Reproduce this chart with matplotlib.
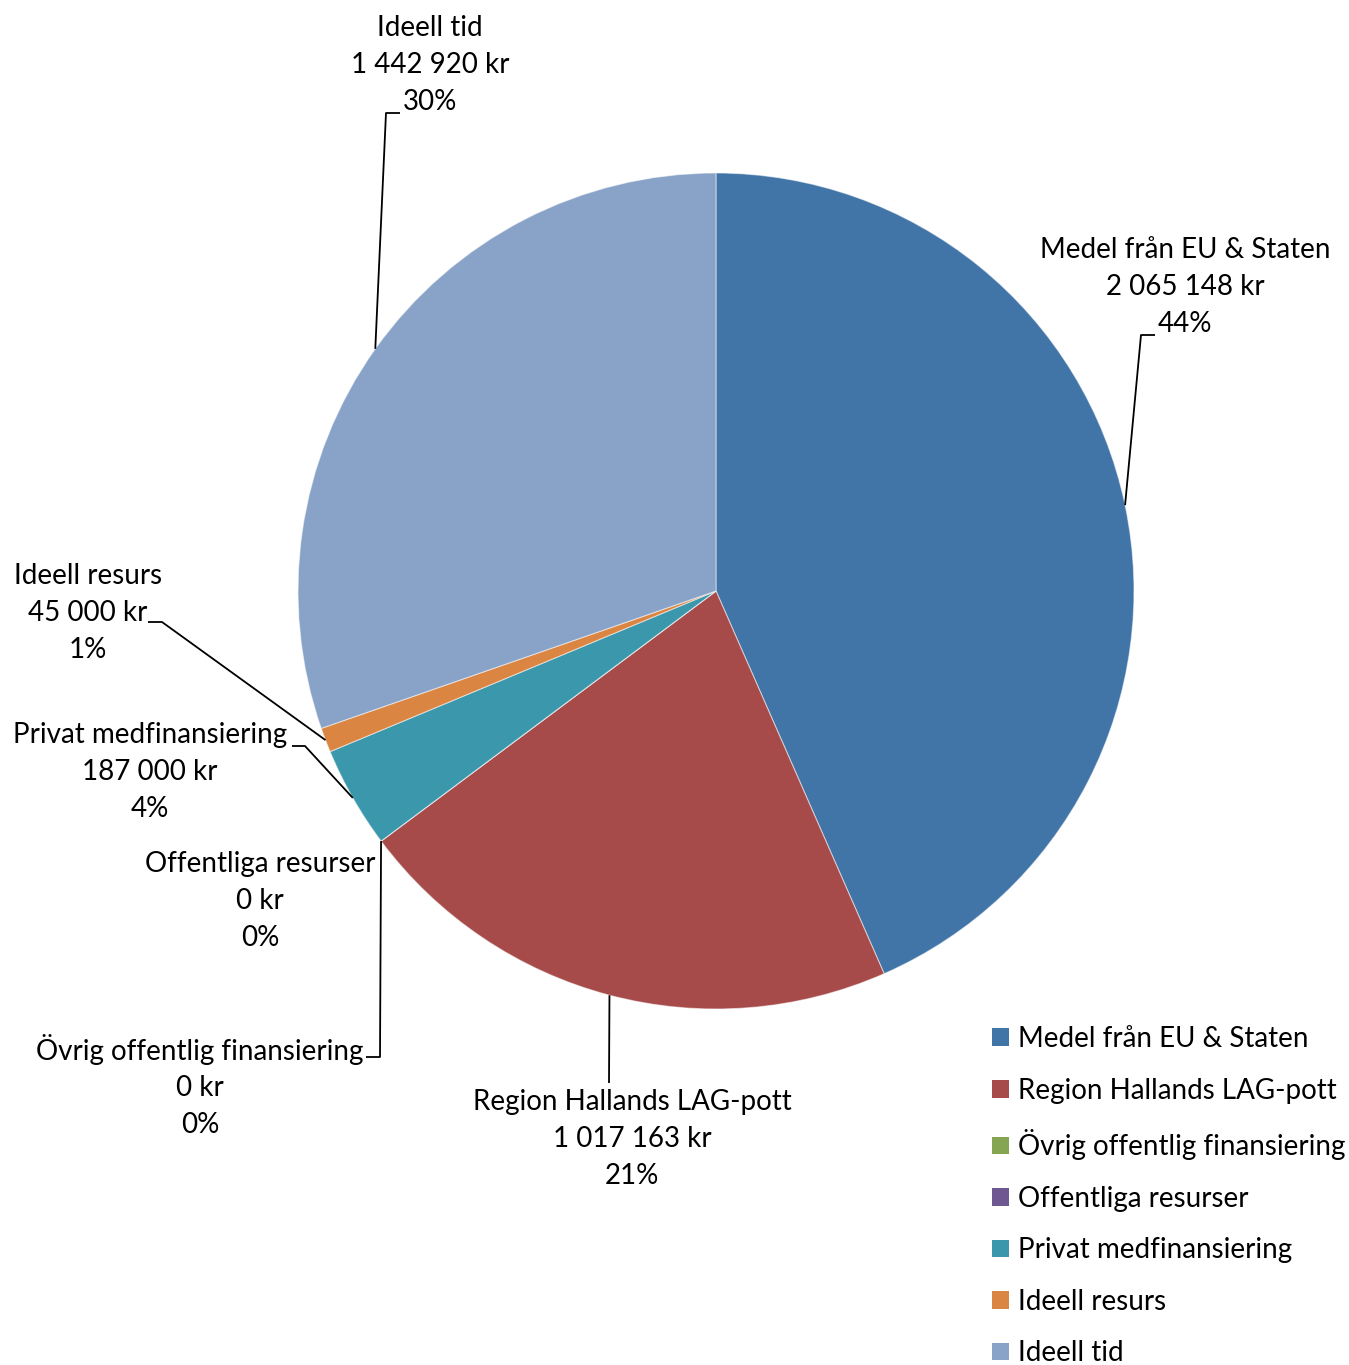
import numpy as np
import matplotlib
matplotlib.use("Agg")
import matplotlib.pyplot as plt
from matplotlib.patches import Patch

plt.rcParams['font.family'] = ['Lato', 'DejaVu Sans']

# data
categories = ["Medel från EU & Staten", "Region Hallands LAG-pott", "Övrig offentlig finansiering",
              "Offentliga resurser", "Privat medfinansiering", "Ideell resurs", "Ideell tid"]
values = [2065148, 1017163, 0, 0, 187000, 45000, 1442920]
colors = ["#4174A7", "#A64B4A", "#85A553", "#6F5891", "#3B97AB", "#DB8543", "#89A3C8"]

W, H = 1349, 1365
fig = plt.figure(figsize=(W / 100, H / 100), dpi=100)
ax = fig.add_axes([0, 0, 1, 1])

cx, cy, r = 716, H - 591, 418
wedges, _ = ax.pie(values, colors=colors, startangle=90, counterclock=False,
                   center=(cx, cy), radius=r, frame=True,
                   wedgeprops=dict(edgecolor=(1, 1, 1, 0.5), linewidth=0.8))
ax.set_xlim(0, W)
ax.set_ylim(0, H)
ax.set_aspect('equal')
ax.axis('off')

total = sum(values)

# percentages rounded so they add up to 100 (largest remainder, like Excel)
raw = [100 * v / total for v in values]
pcts = [int(np.floor(p)) for p in raw]
left = 100 - sum(pcts)
order = sorted(range(len(raw)), key=lambda k: raw[k] - pcts[k], reverse=True)
for k in order[:left]:
    pcts[k] += 1

def fmt_kr(v):
    return "{:,}".format(v).replace(",", " ") + " kr"

# label layout: text centre (px from top), elbow points (px from top)
layout = {
    0: dict(text=(1185, 287), elbow=[(1141, 335), (1155, 335)]),
    1: dict(text=(632, 1139), elbow=[(609, 1083)]),
    2: dict(text=(200, 1086), elbow=[(380, 1057), (366, 1057)]),
    3: dict(text=(260, 901), elbow=None),
    4: dict(text=(150, 772), elbow=[(305, 746), (292, 746)]),
    5: dict(text=(88, 613), elbow=[(162, 622), (148, 622)]),
    6: dict(text=(430, 65), elbow=[(386, 113), (400, 113)]),
}

cum = 0
for i, (cat, v) in enumerate(zip(categories, values)):
    mid = (cum + v / 2) / total
    cum += v
    ang = np.deg2rad(90 - mid * 360)
    ax_, ay_ = cx + r * np.cos(ang), cy + r * np.sin(ang)
    lay = layout[i]
    tx, ty = lay['text']
    ax.text(tx, H - ty, cat + "\n" + fmt_kr(v) + "\n" + str(pcts[i]) + "%", ha='center', va='center',
            fontsize=20, linespacing=1.52, color='black')
    if lay['elbow']:
        xs = [ax_] + [p[0] for p in lay['elbow']]
        ys = [ay_] + [H - p[1] for p in lay['elbow']]
        ax.plot(xs, ys, color='black', lw=1.3, solid_capstyle='butt')

handles = [Patch(facecolor=c, edgecolor='none') for c in colors]
leg = ax.legend(handles, categories, loc='upper left', bbox_to_anchor=(992 / W, 1 - 1026 / H),
                frameon=False, fontsize=20, handlelength=0.6, handleheight=0.6,
                handletextpad=0.35, labelspacing=0.92, borderaxespad=0, borderpad=0)

fig.savefig("out.png", dpi=100)
